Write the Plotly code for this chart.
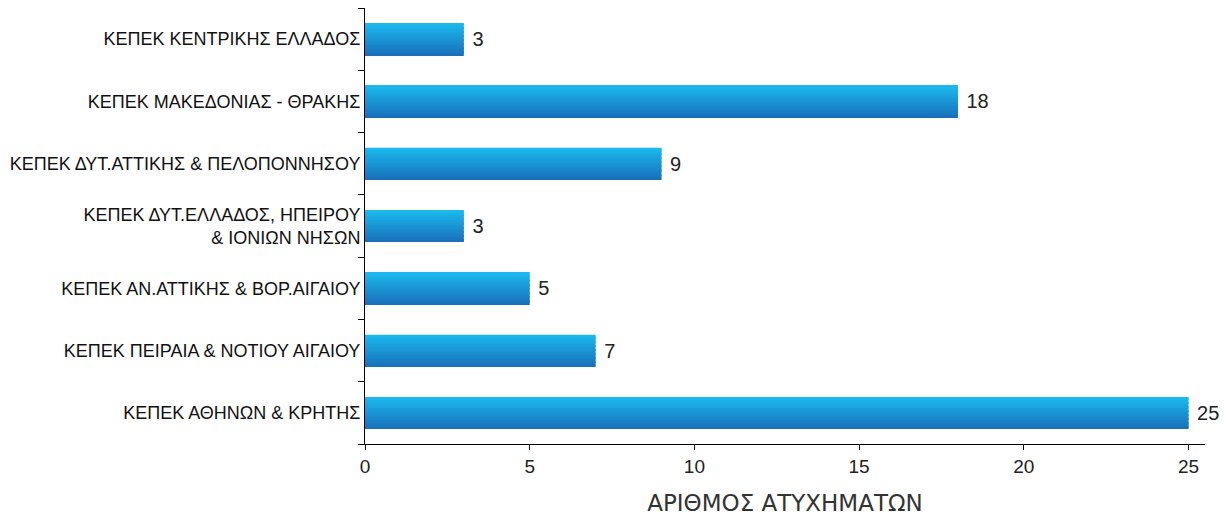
import plotly.graph_objects as go

categories = [
    "ΚΕΠΕΚ ΑΘΗΝΩΝ & ΚΡΗΤΗΣ",
    "ΚΕΠΕΚ ΠΕΙΡΑΙΑ & ΝΟΤΙΟΥ ΑΙΓΑΙΟΥ",
    "ΚΕΠΕΚ ΑΝ.ΑΤΤΙΚΗΣ & ΒΟΡ.ΑΙΓΑΙΟΥ",
    "ΚΕΠΕΚ ΔΥΤ.ΕΛΛΑΔΟΣ, ΗΠΕΙΡΟΥ<br>& ΙΟΝΙΩΝ ΝΗΣΩΝ",
    "ΚΕΠΕΚ ΔΥΤ.ΑΤΤΙΚΗΣ & ΠΕΛΟΠΟΝΝΗΣΟΥ",
    "ΚΕΠΕΚ ΜΑΚΕΔΟΝΙΑΣ - ΘΡΑΚΗΣ",
    "ΚΕΠΕΚ ΚΕΝΤΡΙΚΗΣ ΕΛΛΑΔΟΣ",
]
values = [25, 7, 5, 3, 9, 18, 3]
x_ticks = [0, 5, 10, 15, 20, 25]
x_title = "ΑΡΙΘΜΟΣ ΑΤΥΧΗΜΑΤΩΝ"

top_rgb = (27, 184, 237)
bot_rgb = (25, 112, 186)
BAR_W = 0.51
N = 24

fig = go.Figure()
# transparent carrier bar for value labels
fig.add_trace(go.Bar(
    x=values, y=categories, orientation="h",
    width=BAR_W, marker=dict(color="rgba(0,0,0,0)", line=dict(width=0)),
    text=[str(v) for v in values], texttemplate=" %{text}", textposition="outside",
    textfont=dict(size=20, color="#222", family="Liberation Sans, Arial"),
    cliponaxis=False, hoverinfo="skip", showlegend=False,
))
# gradient slices
sw = BAR_W / N
for i in range(N):
    t = i / (N - 1)  # 0 bottom -> 1 top
    r = round(bot_rgb[0] + (top_rgb[0] - bot_rgb[0]) * t)
    g = round(bot_rgb[1] + (top_rgb[1] - bot_rgb[1]) * t)
    b = round(bot_rgb[2] + (top_rgb[2] - bot_rgb[2]) * t)
    w = sw * 1.2 if i < N - 1 else sw
    fig.add_trace(go.Bar(
        x=values, y=categories, orientation="h",
        width=w, offset=-BAR_W / 2 + i * sw,
        marker=dict(color=f"rgb({r},{g},{b})", line=dict(width=0)),
        hoverinfo="skip", showlegend=False,
    ))

fig.update_layout(
    barmode="overlay",
    width=1230, height=519,
    margin=dict(l=357, r=33, t=0, b=83),
    plot_bgcolor="white", paper_bgcolor="white",
    font=dict(family="Liberation Sans, Arial", color="#222"),
    xaxis=dict(
        range=[0, 25.5], tickvals=x_ticks, showgrid=False, zeroline=False,
        showline=True, linecolor="black", linewidth=1,
        ticks="outside", ticklen=5, tickcolor="black",
        tickfont=dict(size=19, color="#222"),
        title=dict(text=x_title, font=dict(size=23, family="DejaVu Sans", color="#333"), standoff=19),
    ),
    yaxis=dict(
        type="category", categoryorder="array", categoryarray=categories,
        range=[-0.5, 6.5], showgrid=False, zeroline=False,
        showline=True, linecolor="black", linewidth=1,
        ticks="outside", ticklen=6, tickcolor="black", tickson="boundaries",
        tickfont=dict(size=18, color="#111"),
    ),
)
fig.write_html("out.html")
